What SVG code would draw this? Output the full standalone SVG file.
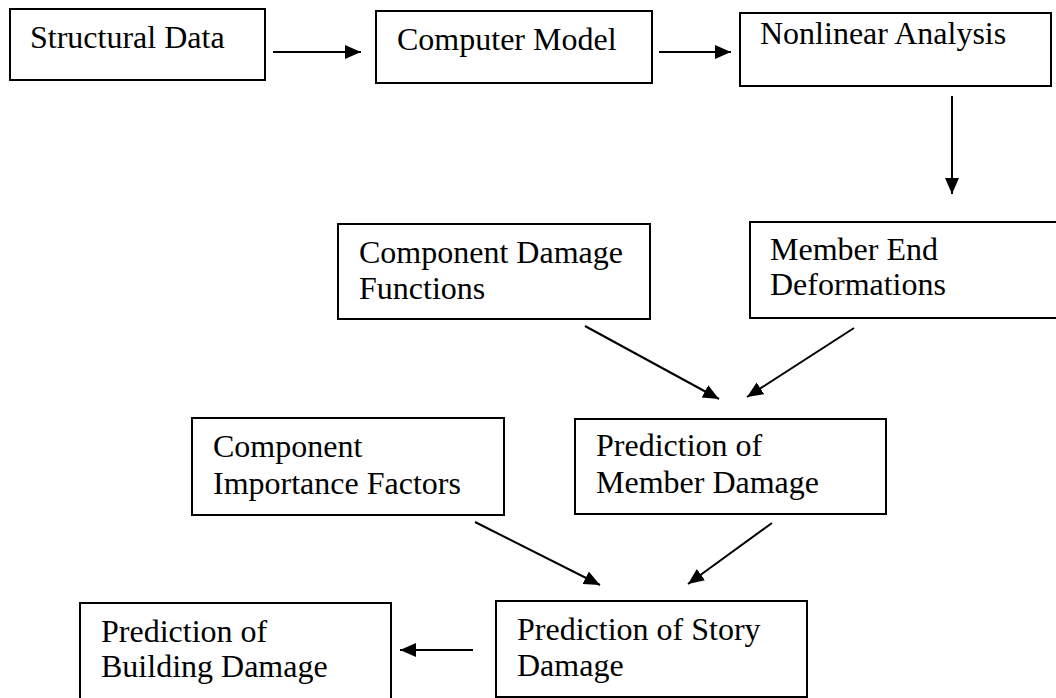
<svg xmlns="http://www.w3.org/2000/svg" width="1056" height="698" viewBox="0 0 1056 698">
<defs>
<marker id="ah" markerUnits="userSpaceOnUse" markerWidth="18" markerHeight="16" refX="16" refY="7" orient="auto">
<path d="M0,0 L16,7 L0,14 Z" fill="#000"/>
</marker>
<style>
.box{fill:#fff;stroke:#000;stroke-width:2}
.t{font-family:"Liberation Serif","Times New Roman",serif;font-size:32px;fill:#000}
.c{stroke:#000;stroke-width:2;fill:none;marker-end:url(#ah)}
</style>
</defs>
<rect width="1056" height="698" fill="#fff"/>
<g id="structural-data"><rect class="box" x="10" y="9" width="255" height="71"/><text class="t" x="30" y="48">Structural Data</text></g>
<g id="computer-model"><rect class="box" x="376" y="11" width="276" height="72"/><text class="t" x="397" y="50">Computer Model</text></g>
<g id="nonlinear-analysis"><rect class="box" x="740" y="13" width="311" height="73"/><text class="t" x="760" y="44">Nonlinear Analysis</text></g>
<g id="component-damage-functions"><rect class="box" x="338" y="224" width="312" height="95"/><text class="t" x="359" y="263">Component Damage</text><text class="t" x="359" y="299">Functions</text></g>
<g id="member-end-deformations"><rect class="box" x="750" y="222" width="310" height="96"/><text class="t" x="770" y="260">Member End</text><text class="t" x="770" y="295">Deformations</text></g>
<g id="component-importance-factors"><rect class="box" x="192" y="418" width="312" height="97"/><text class="t" x="213" y="457">Component</text><text class="t" x="213" y="494">Importance Factors</text></g>
<g id="prediction-member-damage"><rect class="box" x="575" y="419" width="311" height="95"/><text class="t" x="596" y="456">Prediction of</text><text class="t" x="596" y="493">Member Damage</text></g>
<g id="prediction-story-damage"><rect class="box" x="496" y="601" width="311" height="96"/><text class="t" x="517" y="640">Prediction of Story</text><text class="t" x="517" y="676">Damage</text></g>
<g id="prediction-building-damage"><rect class="box" x="80" y="603" width="311" height="97"/><text class="t" x="101" y="642">Prediction of</text><text class="t" x="101" y="677">Building Damage</text></g>
<g id="connectors">
<line class="c" x1="273" y1="52" x2="361" y2="52"/>
<line class="c" x1="659" y1="52" x2="731" y2="52"/>
<line class="c" x1="952" y1="96" x2="952" y2="194"/>
<line class="c" x1="585" y1="326" x2="719" y2="399"/>
<line class="c" x1="854" y1="328" x2="747" y2="397"/>
<line class="c" x1="475" y1="522" x2="600" y2="585"/>
<line class="c" x1="772" y1="523" x2="688" y2="584"/>
<line class="c" x1="473" y1="650" x2="400" y2="650"/>
</g>
</svg>
